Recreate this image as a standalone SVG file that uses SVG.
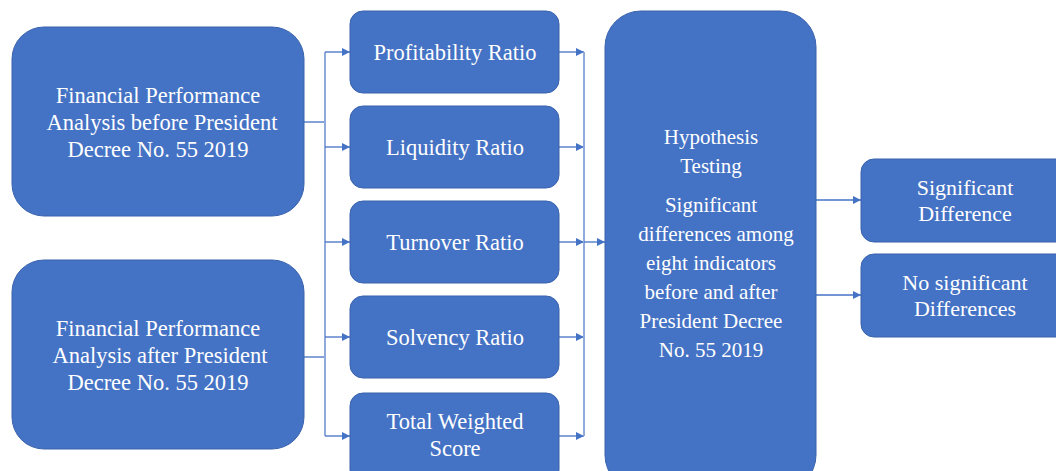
<svg xmlns="http://www.w3.org/2000/svg" width="1056" height="471" viewBox="0 0 1056 471">
<style>
.box{fill:#4472C4;stroke:#3A63AD;stroke-width:1}
.h{stroke:#4472C4;stroke-width:1.3;fill:none}
.v{stroke:#8FAADC;stroke-width:2;fill:none}
.t{font-family:'Liberation Serif','Times New Roman',serif;fill:#FFFFFF;text-anchor:middle}
.a{font-size:22.5px}
.m{font-size:22.5px}
.p{font-size:21px}
.r{font-size:22px}
</style>
<defs>
<marker id="ah" markerWidth="8" markerHeight="8" refX="8" refY="4" orient="auto" markerUnits="userSpaceOnUse">
<path d="M0,0 L8,4 L0,8 Z" fill="#4472C4"/>
</marker>
</defs>
<rect width="1056" height="471" fill="#FFFFFF"/>
<g id="connectors">
<line class="h" x1="304" y1="122" x2="325" y2="122"/>
<line class="h" x1="304" y1="357" x2="325" y2="357"/>
<line class="v" x1="325" y1="52" x2="325" y2="436"/>
<line class="h" x1="325" y1="52" x2="350" y2="52" marker-end="url(#ah)"/>
<line class="h" x1="325" y1="147" x2="350" y2="147" marker-end="url(#ah)"/>
<line class="h" x1="325" y1="242" x2="350" y2="242" marker-end="url(#ah)"/>
<line class="h" x1="325" y1="337" x2="350" y2="337" marker-end="url(#ah)"/>
<line class="h" x1="325" y1="436" x2="350" y2="436" marker-end="url(#ah)"/>
<line class="h" x1="559" y1="52" x2="584" y2="52" marker-end="url(#ah)"/>
<line class="h" x1="559" y1="147" x2="584" y2="147" marker-end="url(#ah)"/>
<line class="h" x1="559" y1="242" x2="584" y2="242" marker-end="url(#ah)"/>
<line class="h" x1="559" y1="337" x2="584" y2="337" marker-end="url(#ah)"/>
<line class="h" x1="559" y1="436" x2="584" y2="436" marker-end="url(#ah)"/>
<line class="v" x1="584" y1="52" x2="584" y2="436"/>
<line class="h" x1="584" y1="242" x2="605" y2="242" marker-end="url(#ah)"/>
<line class="h" x1="816" y1="200" x2="861" y2="200" marker-end="url(#ah)"/>
<line class="h" x1="816" y1="295" x2="861" y2="295" marker-end="url(#ah)"/>
</g>
<g id="before">
<rect class="box" x="12" y="27" width="292" height="189" rx="32"/>
<text class="t a" x="158" y="103">Financial Performance</text>
<text class="t a" x="162" y="130">Analysis before President</text>
<text class="t a" x="158" y="157">Decree No. 55 2019</text>
</g>
<g id="after">
<rect class="box" x="12" y="260" width="292" height="189" rx="32"/>
<text class="t a" x="158" y="336">Financial Performance</text>
<text class="t a" x="160" y="363">Analysis after President</text>
<text class="t a" x="158" y="390">Decree No. 55 2019</text>
</g>
<g id="profitability">
<rect class="box" x="350" y="11" width="209" height="82" rx="13"/>
<text class="t m" x="455" y="60">Profitability Ratio</text>
</g>
<g id="liquidity">
<rect class="box" x="350" y="106" width="209" height="82" rx="13"/>
<text class="t m" x="455" y="155">Liquidity Ratio</text>
</g>
<g id="turnover">
<rect class="box" x="350" y="201" width="209" height="82" rx="13"/>
<text class="t m" x="455" y="250">Turnover Ratio</text>
</g>
<g id="solvency">
<rect class="box" x="350" y="296" width="209" height="82" rx="13"/>
<text class="t m" x="455" y="345">Solvency Ratio</text>
</g>
<g id="tws">
<rect class="box" x="350" y="393" width="209" height="90" rx="13"/>
<text class="t m" x="455" y="429">Total Weighted</text>
<text class="t m" x="455" y="456">Score</text>
</g>
<g id="hypothesis">
<rect class="box" x="605" y="11" width="211" height="480" rx="36"/>
<text class="t p" x="711" y="144">Hypothesis</text>
<text class="t p" x="711" y="173">Testing</text>
<text class="t p" x="711" y="212">Significant</text>
<text class="t p" x="716" y="241">differences among</text>
<text class="t p" x="711" y="270">eight indicators</text>
<text class="t p" x="711" y="299">before and after</text>
<text class="t p" x="711" y="328">President Decree</text>
<text class="t p" x="711" y="357">No. 55 2019</text>
</g>
<g id="significant">
<rect class="box" x="861" y="159" width="210" height="83" rx="13"/>
<text class="t r" x="965" y="195">Significant</text>
<text class="t r" x="965" y="221">Difference</text>
</g>
<g id="nosignificant">
<rect class="box" x="861" y="254" width="210" height="83" rx="13"/>
<text class="t r" x="965" y="290">No significant</text>
<text class="t r" x="965" y="316">Differences</text>
</g>
</svg>
